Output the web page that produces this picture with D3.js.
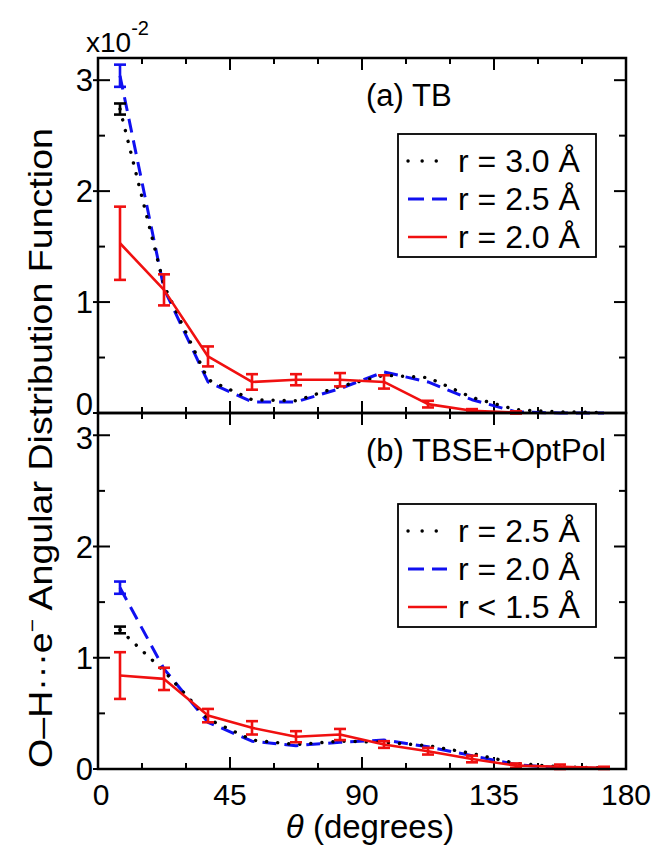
<!DOCTYPE html>
<html>
<head>
<meta charset="utf-8">
<script src="https://cdn.jsdelivr.net/npm/d3@7"></script>
<style>
  body { margin: 0; background: #fff; }
  svg text { font-family: "Liberation Sans", Arial, Helvetica, sans-serif; fill: #000; }
</style>
</head>
<body>
<div id="root"></div>
<script>
const width = 655,
      height = 848

// bin centres, degrees
const angles = [7.5, 22.5, 37.5, 52.5, 67.5, 82.5, 97.5, 112.5, 127.5, 142.5, 157.5, 172.5]
const xTicks = [0, 45, 90, 135, 180]
const yTicks = [0, 1, 2, 3]

// panel (a) TB, values in units of 1e-2
const tbR30 = [2.74, 1.15, 0.30, 0.12, 0.11, 0.24, 0.34, 0.32, 0.14, 0.03, 0.01, 0.005]
const tbR30Err = [0.05]
const tbR25 = [3.04, 1.12, 0.28, 0.10, 0.10, 0.22, 0.37, 0.28, 0.12, 0.01, 0.0, 0.0]
const tbR25Err = [0.10]
const tbR20 = [1.53, 1.11, 0.51, 0.28, 0.30, 0.30, 0.28, 0.08, 0.02, 0.005]
const tbR20Err = [0.33, 0.14, 0.09, 0.07, 0.05, 0.06, 0.06, 0.03, 0.015, 0.01]

// panel (b) TBSE+OptPol
const seR25 = [1.25, 0.88, 0.45, 0.26, 0.22, 0.25, 0.24, 0.21, 0.14, 0.05, 0.02, 0.01]
const seR25Err = [0.03]
const seR20 = [1.63, 0.90, 0.42, 0.25, 0.21, 0.24, 0.26, 0.20, 0.12, 0.04, 0.01, 0.005]
const seR20Err = [0.055]
const seR15 = [0.84, 0.81, 0.48, 0.37, 0.29, 0.31, 0.22, 0.16, 0.09, 0.03, 0.02, 0.01]
const seR15Err = [0.21, 0.10, 0.06, 0.06, 0.05, 0.05, 0.03, 0.03, 0.03, 0.02, 0.02, 0.01]

const styles = {
  dot:  { color: '#000', dash: '0.1,11', w: 3.4, cap: 'round' },
  dash: { color: '#1010f0', dash: '14,8', w: 3, cap: 'butt' },
  solid:{ color: '#f01010', dash: null, w: 2.6, cap: 'butt' }
}

const panels = [
  { label: '(a) TB', top: 58, bottom: 413,
    series: [
      { name: 'r = 2.5 Å', vals: tbR25, err: tbR25Err, st: 'dash' },
      { name: 'r = 3.0 Å', vals: tbR30, err: tbR30Err, st: 'dot' },
      { name: 'r = 2.0 Å', vals: tbR20, err: tbR20Err, st: 'solid' }
    ],
    legend: ['r = 3.0 Å', 'r = 2.5 Å', 'r = 2.0 Å'], legendTop: 134 },
  { label: '(b) TBSE+OptPol', top: 413, bottom: 769,
    series: [
      { name: 'r = 2.0 Å', vals: seR20, err: seR20Err, st: 'dash' },
      { name: 'r = 2.5 Å', vals: seR25, err: seR25Err, st: 'dot' },
      { name: 'r < 1.5 Å', vals: seR15, err: seR15Err, st: 'solid' }
    ],
    legend: ['r = 2.5 Å', 'r = 2.0 Å', 'r < 1.5 Å'], legendTop: 504 }
]
const legendStyles = ['dot', 'dash', 'solid']

const left = 98, right = 626

const svg = d3.select('#root')
              .append('svg')
              .attr('width', width)
              .attr('height', height)

const x = d3.scaleLinear().domain([0, 180]).range([left, right])

panels.forEach((p, pi) => {
  const y = d3.scaleLinear().domain([0, 3.2]).range([p.bottom, p.top])
  const g = svg.append('g')

  // ticks, inward on all four sides
  const xMajor = d3.range(0, 181, 45), xMinor = d3.range(0, 181, 15).filter(v => v % 45)
  const yMajor = d3.range(0, 3.01, 1), yMinor = d3.range(0.5, 3.2, 1)
  const tk = g.append('g').attr('stroke', '#000').attr('stroke-width', 2)
  xMajor.concat(xMinor).forEach(v => {
    const len = v % 45 ? 6 : 12
    tk.append('line').attr('x1', x(v)).attr('x2', x(v)).attr('y1', y(0)).attr('y2', y(0) - len)
    tk.append('line').attr('x1', x(v)).attr('x2', x(v)).attr('y1', y(3.2)).attr('y2', y(3.2) + len)
  })
  yMajor.concat(yMinor).forEach(v => {
    const major = Number.isInteger(v)
    const len = major ? 12 : 7
    tk.append('line').attr('x1', left - (major ? 5 : 0)).attr('x2', left + len).attr('y1', y(v)).attr('y2', y(v))
    tk.append('line').attr('x1', right).attr('x2', right - len).attr('y1', y(v)).attr('y2', y(v))
  })

  // y tick labels (top 0 and bottom 3 are nudged apart)
  g.selectAll('.ylab')
    .data(yTicks)
    .enter().append('text')
    .attr('x', 93)
    .attr('y', d => y(d) + (pi === 0 && d === 0 ? -9 : 0) + (pi === 1 && d === 3 ? 3 : 0))
    .attr('dy', '0.36em')
    .attr('text-anchor', 'end')
    .style('font-size', '31px')
    .text(d => d)

  // lines
  p.series.forEach(s => {
    const st = styles[s.st]
    const pts = s.vals.map((v, i) => [angles[i], v])
    const line = d3.line().x(d => x(d[0])).y(d => y(d[1]))
    g.append('path')
      .attr('d', line(pts))
      .attr('fill', 'none')
      .attr('stroke', st.color)
      .attr('stroke-width', st.w)
      .attr('stroke-linecap', st.cap)
      .attr('stroke-linejoin', 'round')
      .attr('stroke-dasharray', st.dash)

    const eb = g.append('g').attr('stroke', st.color).attr('stroke-width', 2.6)
    s.err.forEach((e, i) => {
      const cx = x(angles[i]), y0 = y(s.vals[i] - e), y1 = y(s.vals[i] + e)
      eb.append('line').attr('x1', cx).attr('x2', cx).attr('y1', y0).attr('y2', y1)
      eb.append('line').attr('x1', cx - 6).attr('x2', cx + 6).attr('y1', y0).attr('y2', y0)
      eb.append('line').attr('x1', cx - 6).attr('x2', cx + 6).attr('y1', y1).attr('y2', y1)
    })
  })

  // frame
  g.append('rect')
    .attr('x', left).attr('y', p.top)
    .attr('width', right - left).attr('height', p.bottom - p.top)
    .attr('fill', 'none').attr('stroke', '#000').attr('stroke-width', 2.5)

  g.append('text')
    .attr('x', 366).attr('y', p.top + 48)
    .style('font-size', '31px')
    .text(p.label)

  // legend
  const lg = g.append('g')
  lg.append('rect')
    .attr('x', 398).attr('y', p.legendTop)
    .attr('width', 198).attr('height', 123)
    .attr('fill', '#fff').attr('stroke', '#000').attr('stroke-width', 1.8)
  p.legend.forEach((name, i) => {
    const st = styles[legendStyles[i]]
    const base = p.legendTop + 38 + i * 38
    lg.append('line')
      .attr('x1', 408).attr('x2', 447)
      .attr('y1', base - 11).attr('y2', base - 11)
      .attr('stroke', st.color)
      .attr('stroke-width', st.w)
      .attr('stroke-linecap', st.cap)
      .attr('stroke-dasharray', legendStyles[i] === 'dot' ? '0.1,14' : (legendStyles[i] === 'dash' ? '16,8' : null))
    lg.append('text')
      .attr('x', 458).attr('y', base)
      .style('font-size', '32px')
      .text(name)
  })
})

// x tick labels
svg.selectAll('.xlab')
  .data(xTicks)
  .enter().append('text')
  .attr('x', d => x(d) + (d === 0 ? 3 : 0))
  .attr('y', 805)
  .attr('text-anchor', 'middle')
  .style('font-size', '30px')
  .text(d => d)

// exponent
const ex = svg.append('text').attr('x', 86).attr('y', 52).style('font-size', '28px')
ex.append('tspan').text('x10')
ex.append('tspan').attr('dy', -17).style('font-size', '20px').text('-2')

// axis titles
const xt = svg.append('text')
  .attr('x', 370).attr('y', 838)
  .attr('text-anchor', 'middle')
  .style('font-size', '33px')
xt.append('tspan').style('font-style', 'italic').text('θ')
xt.append('tspan').text(' (degrees)')

const yt = svg.append('text')
  .attr('transform', 'translate(52,448) rotate(-90)')
  .attr('text-anchor', 'middle')
  .attr('textLength', 640)
  .attr('lengthAdjust', 'spacingAndGlyphs')
  .style('font-size', '33px')
yt.append('tspan').text('O–H···e')
yt.append('tspan').attr('dy', -13).style('font-size', '20px').text('−')
yt.append('tspan').attr('dy', 13).text(' Angular Distribution Function')
</script>
</body>
</html>
